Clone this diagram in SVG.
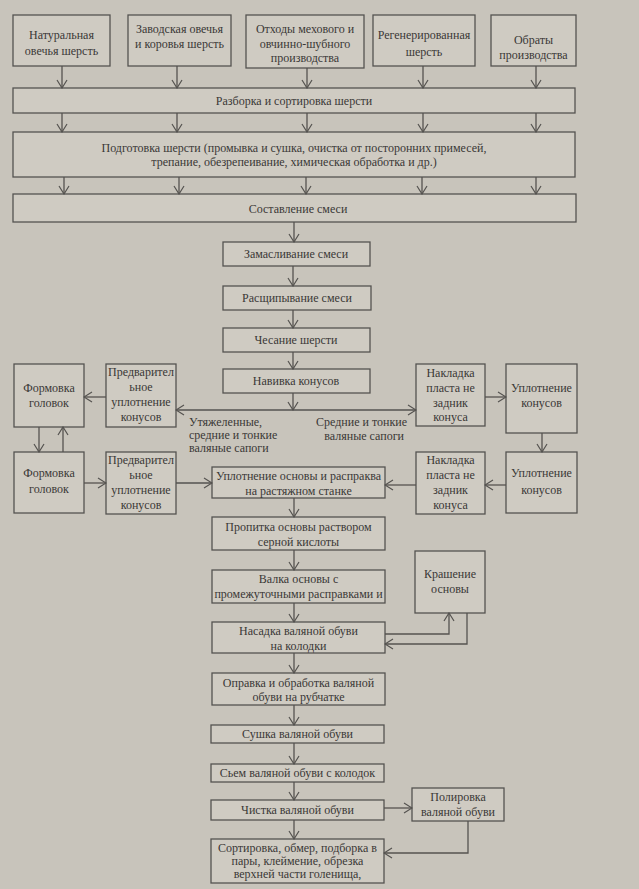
<svg xmlns="http://www.w3.org/2000/svg" width="639" height="889" viewBox="0 0 639 889">
<style>
.b{fill:#cfcbc2;stroke:#555350;stroke-width:1.3}
.t{font-family:"Liberation Serif","Times New Roman",serif;font-size:12px;fill:#3a3836;text-anchor:middle}
.l{font-family:"Liberation Serif","Times New Roman",serif;font-size:12px;fill:#3a3836}
.c{fill:none;stroke:#555350;stroke-width:1.3}
</style>
<defs>
<marker id="a" markerWidth="10" markerHeight="12" refX="9" refY="6" orient="auto" markerUnits="userSpaceOnUse">
<path d="M1,1 L9,6 L1,11" fill="none" stroke="#555350" stroke-width="1.2"/>
</marker>
</defs>
<rect width="639" height="889" fill="#c8c4bb"/>

<g id="n1"><rect class="b" x="13" y="15" width="97" height="51"/><text class="t" x="61.5" y="39">Натуральная</text><text class="t" x="61.5" y="55">овечья шерсть</text></g>
<g id="n2"><rect class="b" x="128" y="15" width="103" height="51"/><text class="t" x="179.5" y="33">Заводская овечья</text><text class="t" x="179.5" y="48">и коровья шерсть</text></g>
<g id="n3"><rect class="b" x="246" y="15" width="118" height="53"/><text class="t" x="305" y="33">Отходы мехового и</text><text class="t" x="305" y="48">овчинно-шубного</text><text class="t" x="305" y="62">производства</text></g>
<g id="n4"><rect class="b" x="373" y="15" width="102" height="51"/><text class="t" x="424" y="39">Регенерированная</text><text class="t" x="424" y="56">шерсть</text></g>
<g id="n5"><rect class="b" x="491" y="15" width="85" height="51"/><text class="t" x="533.5" y="44">Обраты</text><text class="t" x="533.5" y="59">производства</text></g>

<g id="n6"><rect class="b" x="13" y="88" width="562" height="25"/><text class="t" x="294" y="105">Разборка и сортировка шерсти</text></g>
<g id="n7"><rect class="b" x="13" y="132" width="562" height="45"/><text class="t" x="294" y="152">Подготовка шерсти (промывка и сушка, очистка от посторонних примесей,</text><text class="t" x="294" y="166">трепание, обезрепеивание, химическая обработка и др.)</text></g>
<g id="n8"><rect class="b" x="13" y="194" width="563" height="28"/><text class="t" x="298" y="213">Составление смеси</text></g>
<g id="n9"><rect class="b" x="223" y="242" width="147" height="24"/><text class="t" x="296" y="258">Замасливание смеси</text></g>
<g id="n10"><rect class="b" x="223" y="286" width="148" height="24"/><text class="t" x="297" y="302">Расщипывание смеси</text></g>
<g id="n11"><rect class="b" x="223" y="328" width="147" height="24"/><text class="t" x="296" y="344">Чесание шерсти</text></g>
<g id="n12"><rect class="b" x="223" y="369" width="147" height="24"/><text class="t" x="296" y="385">Навивка конусов</text></g>

<g id="n13"><rect class="b" x="14" y="364" width="70" height="63"/><text class="t" x="49" y="392">Формовка</text><text class="t" x="49" y="407">головок</text></g>
<g id="n14"><rect class="b" x="106" y="364" width="70" height="63"/><text class="t" x="141" y="376">Предварител</text><text class="t" x="141" y="391">ьное</text><text class="t" x="141" y="406">уплотнение</text><text class="t" x="141" y="421">конусов</text></g>
<g id="n15"><rect class="b" x="14" y="452" width="70" height="61"/><text class="t" x="49" y="477">Формовка</text><text class="t" x="49" y="493">головок</text></g>
<g id="n16"><rect class="b" x="106" y="452" width="70" height="62"/><text class="t" x="141" y="464">Предварител</text><text class="t" x="141" y="479">ьное</text><text class="t" x="141" y="494">уплотнение</text><text class="t" x="141" y="509">конусов</text></g>

<g id="n17"><rect class="b" x="416" y="364" width="69" height="62"/><text class="t" x="450.5" y="377">Накладка</text><text class="t" x="450.5" y="392">пласта не</text><text class="t" x="450.5" y="407">задник</text><text class="t" x="450.5" y="421">конуса</text></g>
<g id="n18"><rect class="b" x="506" y="364" width="71" height="69"/><text class="t" x="541.5" y="392">Уплотнение</text><text class="t" x="541.5" y="407">конусов</text></g>
<g id="n19"><rect class="b" x="416" y="452" width="69" height="62"/><text class="t" x="450.5" y="464">Накладка</text><text class="t" x="450.5" y="479">пласта не</text><text class="t" x="450.5" y="494">задник</text><text class="t" x="450.5" y="509">конуса</text></g>
<g id="n20"><rect class="b" x="506" y="452" width="71" height="61"/><text class="t" x="541.5" y="477">Уплотнение</text><text class="t" x="541.5" y="494">конусов</text></g>

<g id="n21"><rect class="b" x="212" y="467" width="173" height="31"/><text class="t" x="298.5" y="480">Уплотнение основы и распраква</text><text class="t" x="298.5" y="495">на растяжном станке</text></g>
<g id="n22"><rect class="b" x="212" y="517" width="173" height="33"/><text class="t" x="298.5" y="531">Пропитка основы раствором</text><text class="t" x="298.5" y="546">серной кислоты</text></g>
<g id="n23"><rect class="b" x="212" y="570" width="173" height="33"/><text class="t" x="298.5" y="583">Валка основы с</text><text class="t" x="298.5" y="598">промежуточными расправками и</text></g>
<g id="n24"><rect class="b" x="212" y="622" width="173" height="31"/><text class="t" x="298.5" y="635">Насадка валяной обуви</text><text class="t" x="298.5" y="650">на колодки</text></g>
<g id="n25"><rect class="b" x="415" y="551" width="70" height="62"/><text class="t" x="450" y="578">Крашение</text><text class="t" x="450" y="593">основы</text></g>
<g id="n26"><rect class="b" x="212" y="673" width="173" height="32"/><text class="t" x="298.5" y="687">Оправка и обработка валяной</text><text class="t" x="298.5" y="701">обуви на рубчатке</text></g>
<g id="n27"><rect class="b" x="211" y="725" width="173" height="18"/><text class="t" x="297.5" y="738">Сушка валяной обуви</text></g>
<g id="n28"><rect class="b" x="211" y="764" width="173" height="18"/><text class="t" x="297.5" y="777">Сьем валяной обуви с колодок</text></g>
<g id="n29"><rect class="b" x="211" y="800" width="173" height="20"/><text class="t" x="297.5" y="814">Чистка валяной обуви</text></g>
<g id="n30"><rect class="b" x="412" y="788" width="92" height="33"/><text class="t" x="458" y="801">Полировка</text><text class="t" x="458" y="816">валяной обуви</text></g>
<g id="n31"><rect class="b" x="211" y="839" width="173" height="44"/><text class="t" x="297.5" y="852">Сортировка, обмер, подборка в</text><text class="t" x="297.5" y="865">пары, клеймение, обрезка</text><text class="t" x="297.5" y="878">верхней части голенища,</text></g>

<g id="labels">
<text class="l" x="189" y="426">Утяжеленные,</text>
<text class="l" x="189" y="439">средние и тонкие</text>
<text class="l" x="189" y="452">валяные сапоги</text>
<text class="l" x="407" y="426" text-anchor="end">Средние и тонкие</text>
<text class="l" x="404" y="440" text-anchor="end">валяные сапоги</text>
</g>

<g id="connectors" class="c" marker-end="url(#a)">
<path d="M62,66 V88"/><path d="M177,66 V88"/><path d="M307,68 V88"/><path d="M423,66 V88"/><path d="M536,66 V88"/>
<path d="M62,113 V132"/><path d="M177,113 V132"/><path d="M307,113 V132"/><path d="M423,113 V132"/><path d="M536,113 V132"/>
<path d="M64,177 V194"/><path d="M179,177 V194"/><path d="M306,177 V194"/><path d="M422,177 V194"/><path d="M536,177 V194"/>
<path d="M294,222 V242"/>
<path d="M293,266 V286"/>
<path d="M293,310 V328"/>
<path d="M293,352 V369"/>
<path d="M293,393 V410"/>
<path d="M293,410 H176"/>
<path d="M293,410 H416"/>
<path d="M106,397 H84"/>
<path d="M39,427 V452"/>
<path d="M63,452 V427"/>
<path d="M84,483 H106"/>
<path d="M176,483 H212"/>
<path d="M485,397 H506"/>
<path d="M542,433 V452"/>
<path d="M506,485 H485"/>
<path d="M416,485 H385"/>
<path d="M294,498 V517"/>
<path d="M294,550 V570"/>
<path d="M294,603 V622"/>
<path d="M385,634 H449 V613"/>
<path d="M467,613 V644 H385"/>
<path d="M294,653 V673"/>
<path d="M294,705 V725"/>
<path d="M294,743 V764"/>
<path d="M294,782 V800"/>
<path d="M384,808 H412"/>
<path d="M468,821 V853 H384"/>
<path d="M294,820 V839"/>
</g>
</svg>
